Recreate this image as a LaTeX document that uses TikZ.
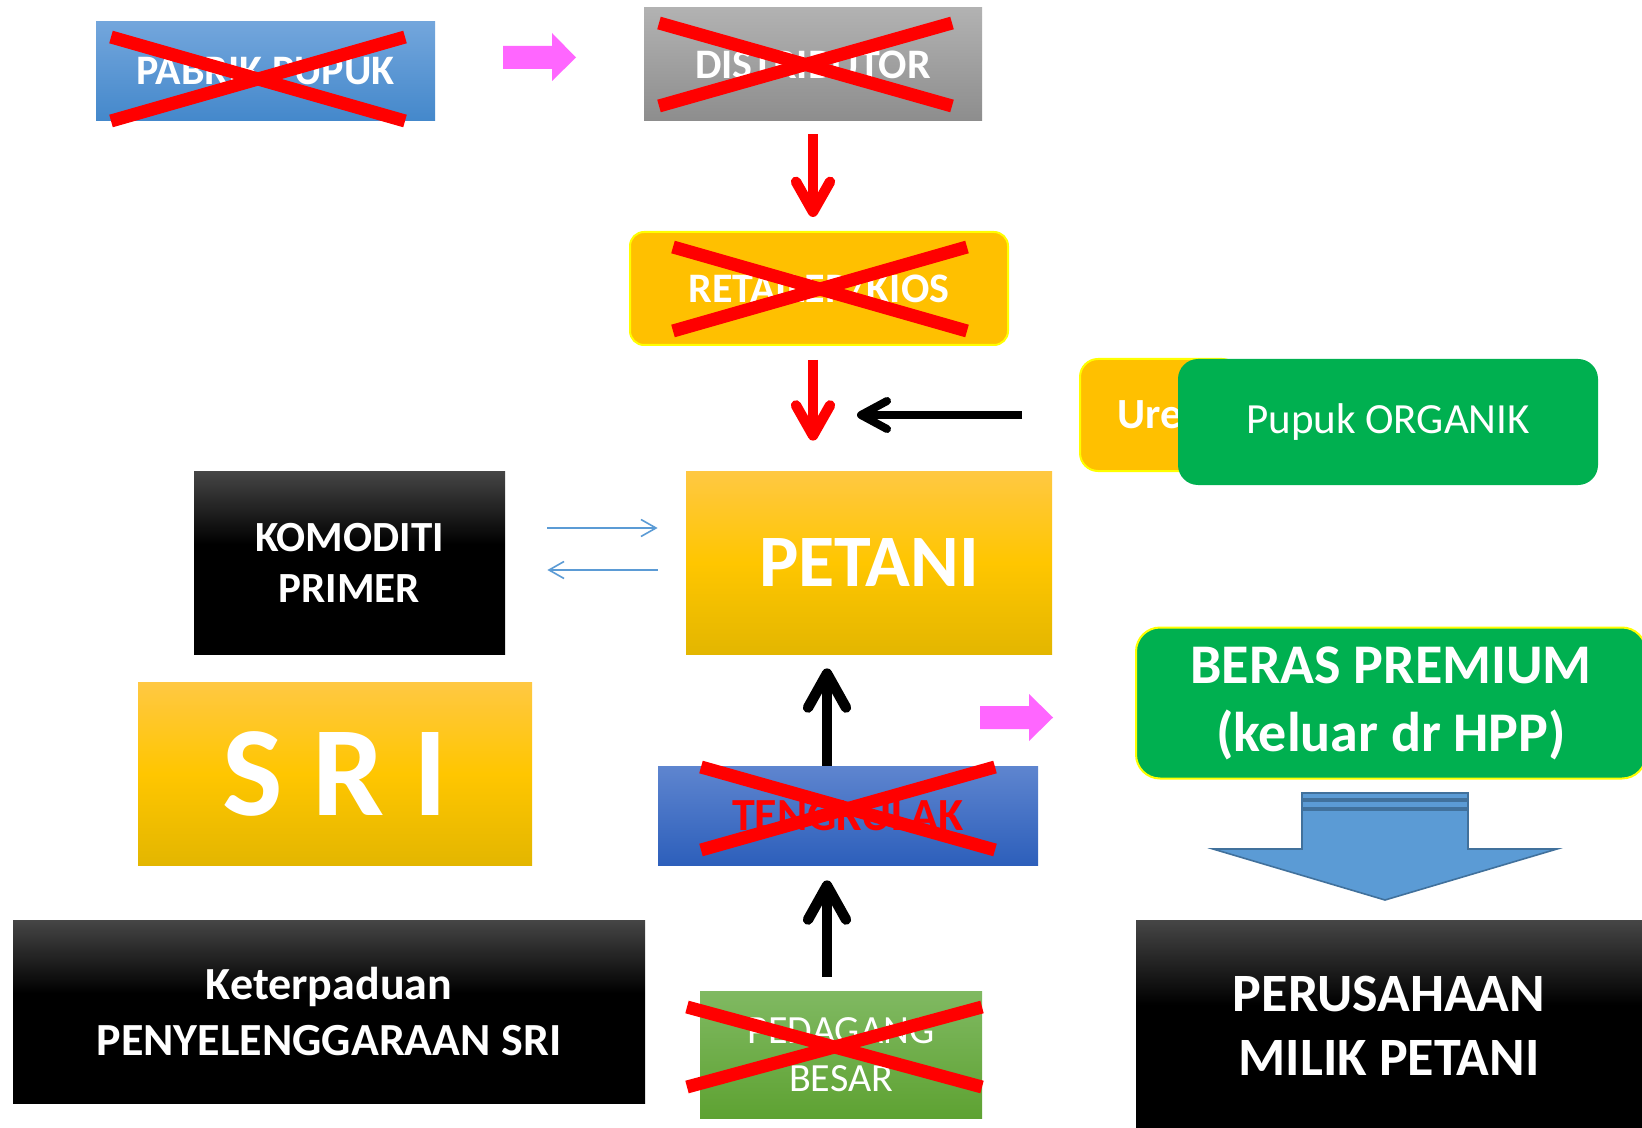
\documentclass[tikz,border=0pt]{standalone}
\usepackage{fontspec}
\setmainfont{Carlito}
\usetikzlibrary{arrows.meta}
\definecolor{xred}{HTML}{FF0000}
\definecolor{pinkc}{HTML}{FF66FF}
\definecolor{orangec}{HTML}{FFC000}
\definecolor{greenc}{HTML}{00B050}
\definecolor{yellowb}{HTML}{FFFF00}
\definecolor{thinblue}{HTML}{5B9BD5}
\definecolor{arrowblue}{HTML}{5B9BD5}
\definecolor{arrowedge}{HTML}{41719C}
\definecolor{blktop}{HTML}{464646}
\definecolor{pabtop}{HTML}{73A6DC}
\definecolor{pabbot}{HTML}{4488CB}
\definecolor{graytop}{HTML}{B2B2B2}
\definecolor{graybot}{HTML}{8D8D8D}
\definecolor{goldtop}{HTML}{FFC843}
\definecolor{goldmid}{HTML}{FFC600}
\definecolor{goldbot}{HTML}{E3B600}
\definecolor{tengtop}{HTML}{5E85CF}
\definecolor{tengbot}{HTML}{2D5FBB}
\definecolor{pedtop}{HTML}{80B962}
\definecolor{pedbot}{HTML}{5EA232}
\pgfdeclareverticalshading{blackgrad}{100bp}{color(0bp)=(black); color(25bp)=(black); color(55bp)=(black); color(75bp)=(blktop); color(100bp)=(blktop)}
\tikzset{
  box/.style={inner sep=0pt, align=center, text=white},
  goldbox/.style={box, top color=goldtop, bottom color=goldbot, middle color=goldmid},
  blackbox/.style={box, shading=blackgrad},
  cross/.style={draw=xred, line width=6.5pt},
  redarr/.style={draw=xred, line width=5.2pt, -{Straight Barb[length=15pt,width=17pt,line cap=round,line join=round]}},
  blkarr/.style={draw=black, line width=5.2pt, -{Straight Barb[length=17pt,width=19pt,line cap=round,line join=round]}},
  blkh/.style={draw=black, line width=4pt, -{Straight Barb[length=13pt,width=14pt,line cap=round,line join=round]}},
  thinarr/.style={draw=thinblue, line width=0.8pt, -{Straight Barb[length=7.5pt,width=8.5pt]}},
  pinkarrow/.style={fill=pinkc, draw=none},
}
\begin{document}
\begin{tikzpicture}[x=0.5pt,y=-0.5pt]
\useasboundingbox (0,0) rectangle (1642,1128);
\fill[white] (0,0) rectangle (1642,1128);

% boxes
\node[box, top color=pabtop, bottom color=pabbot, minimum width=169.5pt, minimum height=49.5pt,
  font=\fontsize{21}{24}\selectfont\bfseries] (pabrik) at (265.5,71.5) {PABRIK PUPUK};
\node[box, top color=graytop, bottom color=graybot, minimum width=169pt, minimum height=56.5pt,
  font=\fontsize{21}{24}\selectfont\bfseries] (dist) at (813,64.5) {DISTRIBUTOR};
\node[box, fill=orangec, draw=yellowb, line width=1pt, rounded corners=7pt, minimum width=189pt, minimum height=56.5pt,
  font=\fontsize{21}{24}\selectfont\bfseries] (retail) at (819,288.5) {RETAILER/KIOS};
\node[box, fill=orangec, draw=yellowb, line width=1pt, rounded corners=9pt, minimum width=80pt, minimum height=56pt,
  font=\fontsize{21.5}{26}\selectfont\bfseries] (urea) at (1160,415) {Urea};
\node[box, fill=greenc, rounded corners=10pt, minimum width=210pt, minimum height=63pt,
  font=\fontsize{21.5}{26}\selectfont] (organik) at (1388,422) {Pupuk ORGANIK};
\node[blackbox, minimum width=155.5pt, minimum height=91.5pt,
  font=\fontsize{21.5}{25.5}\selectfont\bfseries] (kom) at (349.5,562.5) {KOMODITI\\PRIMER};
\node[goldbox, minimum width=183pt, minimum height=91.5pt,
  font=\fontsize{37}{44}\selectfont\bfseries] (petani) at (869,562.5) {PETANI};
\node[goldbox, minimum width=197pt, minimum height=91.5pt,
  font=\fontsize{64}{78}\selectfont\bfseries] (sri) at (335,773.5) {S R I};
\node[blackbox, minimum width=316pt, minimum height=91.5pt,
  font=\fontsize{23}{28}\selectfont\bfseries] (ket) at (329,1011.5) {Keterpaduan\\PENYELENGGARAAN SRI};
\node[box, top color=tengtop, bottom color=tengbot, text=xred, minimum width=190pt, minimum height=49.5pt,
  font=\fontsize{23}{26}\selectfont\bfseries] (teng) at (848,815.5) {TENGKULAK};
\node[box, top color=pedtop, bottom color=pedbot, minimum width=141pt, minimum height=63.5pt,
  font=\fontsize{20}{24}\selectfont] (ped) at (841,1054.5) {PEDAGANG\\BESAR};
\node[box, fill=greenc, draw=yellowb, line width=1pt, rounded corners=12pt, minimum width=255pt, minimum height=75.5pt,
  font=\fontsize{28}{34}\selectfont\bfseries] (beras) at (1391,703) {BERAS PREMIUM\\(keluar dr HPP)};
\node[blackbox, minimum width=253pt, minimum height=106pt,
  font=\fontsize{27}{32}\selectfont\bfseries] (perus) at (1389,1026) {PERUSAHAAN\\MILIK PETANI};

% crosses
\draw[cross] (111,37) -- (405,121);
\draw[cross] (111,121) -- (405,37);
\draw[cross] (659,23) -- (952,106);
\draw[cross] (659,106) -- (952,23);
\draw[cross] (673,247) -- (967,331);
\draw[cross] (673,331) -- (967,247);
\draw[cross] (701,767) -- (995,850);
\draw[cross] (701,850) -- (995,767);
\draw[cross] (687,1007) -- (982,1087);
\draw[cross] (687,1087) -- (982,1007);

% pink block arrows
\fill[pinkarrow] (503,46) -- (552,46) -- (552,33) -- (576,57.5) -- (552,81) -- (552,69) -- (503,69) -- cycle;
\fill[pinkarrow] (980,706) -- (1029,706) -- (1029,694) -- (1053,717.5) -- (1029,741) -- (1029,729) -- (980,729) -- cycle;

% blue block arrow
\filldraw[fill=arrowblue, draw=arrowedge, line width=0.8pt] (1302,793) rectangle (1468,799);
\filldraw[fill=arrowblue, draw=arrowedge, line width=0.8pt] (1302,801) rectangle (1468,808);
\filldraw[fill=arrowblue, draw=arrowedge, line width=0.8pt] (1302,810) -- (1468,810) -- (1468,849) -- (1557,849) -- (1385,900) -- (1213,849) -- (1302,849) -- cycle;

% connectors
\coordinate (upx) at (827,0);
\coordinate (bh) at (857,415);
\draw[redarr, shorten <=6.5pt, shorten >=7pt] (dist.south) -- (retail.north -| dist.south);
\draw[redarr, shorten <=7pt, shorten >=15pt] (retail.south -| dist.south) -- (petani.north -| dist.south);
\draw[blkh, shorten <=28.5pt] (urea.west) -- (bh);
\draw[thinarr, shorten <=21pt, shorten >=14pt] ([yshift=17.25pt]kom.east) -- ([yshift=17.25pt]petani.west);
\draw[thinarr, shorten <=14pt, shorten >=21pt] ([yshift=-3.75pt]petani.west) -- ([yshift=-3.75pt]kom.east);
\draw[blkarr, shorten >=7pt] (teng.north -| upx) -- (petani.south -| upx);
\draw[blkarr, shorten <=7pt, shorten >=7.5pt] (ped.north -| upx) -- (teng.south -| upx);
\end{tikzpicture}
\end{document}
